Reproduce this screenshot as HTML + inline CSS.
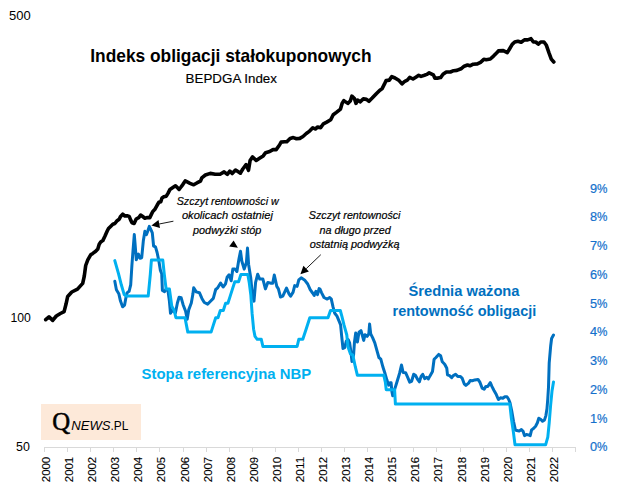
<!DOCTYPE html>
<html><head><meta charset="utf-8"><style>
html,body{margin:0;padding:0;background:#fff;}
svg{display:block;}
text{font-family:"Liberation Sans", sans-serif;}
</style></head><body>
<svg width="624" height="491" viewBox="0 0 624 491">
<rect width="624" height="491" fill="#fff"/>
<line x1="44" y1="447.5" x2="576" y2="447.5" stroke="#d9d9d9" stroke-width="1"/>
<line x1="44.5" y1="447" x2="44.5" y2="452" stroke="#d9d9d9" stroke-width="1"/>
<line x1="67.5" y1="447" x2="67.5" y2="452" stroke="#d9d9d9" stroke-width="1"/>
<line x1="90.5" y1="447" x2="90.5" y2="452" stroke="#d9d9d9" stroke-width="1"/>
<line x1="113.5" y1="447" x2="113.5" y2="452" stroke="#d9d9d9" stroke-width="1"/>
<line x1="136.5" y1="447" x2="136.5" y2="452" stroke="#d9d9d9" stroke-width="1"/>
<line x1="159.5" y1="447" x2="159.5" y2="452" stroke="#d9d9d9" stroke-width="1"/>
<line x1="183.5" y1="447" x2="183.5" y2="452" stroke="#d9d9d9" stroke-width="1"/>
<line x1="206.5" y1="447" x2="206.5" y2="452" stroke="#d9d9d9" stroke-width="1"/>
<line x1="229.5" y1="447" x2="229.5" y2="452" stroke="#d9d9d9" stroke-width="1"/>
<line x1="252.5" y1="447" x2="252.5" y2="452" stroke="#d9d9d9" stroke-width="1"/>
<line x1="275.5" y1="447" x2="275.5" y2="452" stroke="#d9d9d9" stroke-width="1"/>
<line x1="298.5" y1="447" x2="298.5" y2="452" stroke="#d9d9d9" stroke-width="1"/>
<line x1="321.5" y1="447" x2="321.5" y2="452" stroke="#d9d9d9" stroke-width="1"/>
<line x1="344.5" y1="447" x2="344.5" y2="452" stroke="#d9d9d9" stroke-width="1"/>
<line x1="367.5" y1="447" x2="367.5" y2="452" stroke="#d9d9d9" stroke-width="1"/>
<line x1="390.5" y1="447" x2="390.5" y2="452" stroke="#d9d9d9" stroke-width="1"/>
<line x1="413.5" y1="447" x2="413.5" y2="452" stroke="#d9d9d9" stroke-width="1"/>
<line x1="436.5" y1="447" x2="436.5" y2="452" stroke="#d9d9d9" stroke-width="1"/>
<line x1="460.5" y1="447" x2="460.5" y2="452" stroke="#d9d9d9" stroke-width="1"/>
<line x1="483.5" y1="447" x2="483.5" y2="452" stroke="#d9d9d9" stroke-width="1"/>
<line x1="506.5" y1="447" x2="506.5" y2="452" stroke="#d9d9d9" stroke-width="1"/>
<line x1="529.5" y1="447" x2="529.5" y2="452" stroke="#d9d9d9" stroke-width="1"/>
<line x1="552.5" y1="447" x2="552.5" y2="452" stroke="#d9d9d9" stroke-width="1"/>
<line x1="575.5" y1="447" x2="575.5" y2="452" stroke="#d9d9d9" stroke-width="1"/>
<text transform="translate(50.4,482.2) rotate(-90)" font-size="11.1" stroke="#000" stroke-width="0.1" textLength="25.4" lengthAdjust="spacingAndGlyphs">2000</text>
<text transform="translate(73.4,482.2) rotate(-90)" font-size="11.1" stroke="#000" stroke-width="0.1" textLength="25.4" lengthAdjust="spacingAndGlyphs">2001</text>
<text transform="translate(96.4,482.2) rotate(-90)" font-size="11.1" stroke="#000" stroke-width="0.1" textLength="25.4" lengthAdjust="spacingAndGlyphs">2002</text>
<text transform="translate(119.4,482.2) rotate(-90)" font-size="11.1" stroke="#000" stroke-width="0.1" textLength="25.4" lengthAdjust="spacingAndGlyphs">2003</text>
<text transform="translate(142.4,482.2) rotate(-90)" font-size="11.1" stroke="#000" stroke-width="0.1" textLength="25.4" lengthAdjust="spacingAndGlyphs">2004</text>
<text transform="translate(165.4,482.2) rotate(-90)" font-size="11.1" stroke="#000" stroke-width="0.1" textLength="25.4" lengthAdjust="spacingAndGlyphs">2005</text>
<text transform="translate(189.4,482.2) rotate(-90)" font-size="11.1" stroke="#000" stroke-width="0.1" textLength="25.4" lengthAdjust="spacingAndGlyphs">2006</text>
<text transform="translate(212.4,482.2) rotate(-90)" font-size="11.1" stroke="#000" stroke-width="0.1" textLength="25.4" lengthAdjust="spacingAndGlyphs">2007</text>
<text transform="translate(235.4,482.2) rotate(-90)" font-size="11.1" stroke="#000" stroke-width="0.1" textLength="25.4" lengthAdjust="spacingAndGlyphs">2008</text>
<text transform="translate(258.4,482.2) rotate(-90)" font-size="11.1" stroke="#000" stroke-width="0.1" textLength="25.4" lengthAdjust="spacingAndGlyphs">2009</text>
<text transform="translate(281.4,482.2) rotate(-90)" font-size="11.1" stroke="#000" stroke-width="0.1" textLength="25.4" lengthAdjust="spacingAndGlyphs">2010</text>
<text transform="translate(304.4,482.2) rotate(-90)" font-size="11.1" stroke="#000" stroke-width="0.1" textLength="25.4" lengthAdjust="spacingAndGlyphs">2011</text>
<text transform="translate(327.4,482.2) rotate(-90)" font-size="11.1" stroke="#000" stroke-width="0.1" textLength="25.4" lengthAdjust="spacingAndGlyphs">2012</text>
<text transform="translate(350.4,482.2) rotate(-90)" font-size="11.1" stroke="#000" stroke-width="0.1" textLength="25.4" lengthAdjust="spacingAndGlyphs">2013</text>
<text transform="translate(373.4,482.2) rotate(-90)" font-size="11.1" stroke="#000" stroke-width="0.1" textLength="25.4" lengthAdjust="spacingAndGlyphs">2014</text>
<text transform="translate(396.4,482.2) rotate(-90)" font-size="11.1" stroke="#000" stroke-width="0.1" textLength="25.4" lengthAdjust="spacingAndGlyphs">2015</text>
<text transform="translate(419.4,482.2) rotate(-90)" font-size="11.1" stroke="#000" stroke-width="0.1" textLength="25.4" lengthAdjust="spacingAndGlyphs">2016</text>
<text transform="translate(442.4,482.2) rotate(-90)" font-size="11.1" stroke="#000" stroke-width="0.1" textLength="25.4" lengthAdjust="spacingAndGlyphs">2017</text>
<text transform="translate(466.4,482.2) rotate(-90)" font-size="11.1" stroke="#000" stroke-width="0.1" textLength="25.4" lengthAdjust="spacingAndGlyphs">2018</text>
<text transform="translate(489.4,482.2) rotate(-90)" font-size="11.1" stroke="#000" stroke-width="0.1" textLength="25.4" lengthAdjust="spacingAndGlyphs">2019</text>
<text transform="translate(512.4,482.2) rotate(-90)" font-size="11.1" stroke="#000" stroke-width="0.1" textLength="25.4" lengthAdjust="spacingAndGlyphs">2020</text>
<text transform="translate(535.4,482.2) rotate(-90)" font-size="11.1" stroke="#000" stroke-width="0.1" textLength="25.4" lengthAdjust="spacingAndGlyphs">2021</text>
<text transform="translate(558.4,482.2) rotate(-90)" font-size="11.1" stroke="#000" stroke-width="0.1" textLength="25.4" lengthAdjust="spacingAndGlyphs">2022</text>
<text x="9.1" y="20" font-size="12.8" textLength="21.7" lengthAdjust="spacingAndGlyphs">500</text>
<text x="10.4" y="321.8" font-size="12.8" textLength="20.4" lengthAdjust="spacingAndGlyphs">100</text>
<text x="16" y="451.2" font-size="12.8" textLength="13.8" lengthAdjust="spacingAndGlyphs">50</text>
<text x="590.0" y="451.3" font-size="12.6" fill="#1470cc" stroke="#1470cc" stroke-width="0.2" textLength="7.1" lengthAdjust="spacingAndGlyphs">0</text>
<text x="597.0" y="451.3" font-size="12.6" fill="#1470cc" stroke="#1470cc" stroke-width="0.2" textLength="10.4" lengthAdjust="spacingAndGlyphs">%</text>
<text x="590.0" y="422.6" font-size="12.6" fill="#1470cc" stroke="#1470cc" stroke-width="0.2" textLength="7.1" lengthAdjust="spacingAndGlyphs">1</text>
<text x="597.0" y="422.6" font-size="12.6" fill="#1470cc" stroke="#1470cc" stroke-width="0.2" textLength="10.4" lengthAdjust="spacingAndGlyphs">%</text>
<text x="590.0" y="393.8" font-size="12.6" fill="#1470cc" stroke="#1470cc" stroke-width="0.2" textLength="7.1" lengthAdjust="spacingAndGlyphs">2</text>
<text x="597.0" y="393.8" font-size="12.6" fill="#1470cc" stroke="#1470cc" stroke-width="0.2" textLength="10.4" lengthAdjust="spacingAndGlyphs">%</text>
<text x="590.0" y="365.1" font-size="12.6" fill="#1470cc" stroke="#1470cc" stroke-width="0.2" textLength="7.1" lengthAdjust="spacingAndGlyphs">3</text>
<text x="597.0" y="365.1" font-size="12.6" fill="#1470cc" stroke="#1470cc" stroke-width="0.2" textLength="10.4" lengthAdjust="spacingAndGlyphs">%</text>
<text x="590.0" y="336.3" font-size="12.6" fill="#1470cc" stroke="#1470cc" stroke-width="0.2" textLength="7.1" lengthAdjust="spacingAndGlyphs">4</text>
<text x="597.0" y="336.3" font-size="12.6" fill="#1470cc" stroke="#1470cc" stroke-width="0.2" textLength="10.4" lengthAdjust="spacingAndGlyphs">%</text>
<text x="590.0" y="307.6" font-size="12.6" fill="#1470cc" stroke="#1470cc" stroke-width="0.2" textLength="7.1" lengthAdjust="spacingAndGlyphs">5</text>
<text x="597.0" y="307.6" font-size="12.6" fill="#1470cc" stroke="#1470cc" stroke-width="0.2" textLength="10.4" lengthAdjust="spacingAndGlyphs">%</text>
<text x="590.0" y="278.8" font-size="12.6" fill="#1470cc" stroke="#1470cc" stroke-width="0.2" textLength="7.1" lengthAdjust="spacingAndGlyphs">6</text>
<text x="597.0" y="278.8" font-size="12.6" fill="#1470cc" stroke="#1470cc" stroke-width="0.2" textLength="10.4" lengthAdjust="spacingAndGlyphs">%</text>
<text x="590.0" y="250.1" font-size="12.6" fill="#1470cc" stroke="#1470cc" stroke-width="0.2" textLength="7.1" lengthAdjust="spacingAndGlyphs">7</text>
<text x="597.0" y="250.1" font-size="12.6" fill="#1470cc" stroke="#1470cc" stroke-width="0.2" textLength="10.4" lengthAdjust="spacingAndGlyphs">%</text>
<text x="590.0" y="221.3" font-size="12.6" fill="#1470cc" stroke="#1470cc" stroke-width="0.2" textLength="7.1" lengthAdjust="spacingAndGlyphs">8</text>
<text x="597.0" y="221.3" font-size="12.6" fill="#1470cc" stroke="#1470cc" stroke-width="0.2" textLength="10.4" lengthAdjust="spacingAndGlyphs">%</text>
<text x="590.0" y="192.6" font-size="12.6" fill="#1470cc" stroke="#1470cc" stroke-width="0.2" textLength="7.1" lengthAdjust="spacingAndGlyphs">9</text>
<text x="597.0" y="192.6" font-size="12.6" fill="#1470cc" stroke="#1470cc" stroke-width="0.2" textLength="10.4" lengthAdjust="spacingAndGlyphs">%</text>
<rect x="41" y="404" width="100" height="36" fill="#fde9d9"/>
<text x="52.2" y="429.8" style="font-family:'Liberation Serif', serif" font-size="24.8" fill="#000" stroke="#000" stroke-width="0.5">Q</text>
<text x="71.2" y="429.7" font-size="13.4" font-style="italic" fill="#000" textLength="39.3" lengthAdjust="spacingAndGlyphs">NEWS</text>
<text x="110.4" y="429.7" font-size="13" fill="#000" textLength="17.9" lengthAdjust="spacingAndGlyphs">.PL</text>
<text x="90.3" y="61.8" font-size="17.9" font-weight="bold" textLength="281.2" lengthAdjust="spacingAndGlyphs">Indeks obligacji stałokuponowych</text>
<text x="185.6" y="83.1" font-size="12.6" stroke="#000" stroke-width="0.15" textLength="91.4" lengthAdjust="spacingAndGlyphs">BEPDGA Index</text>
<text x="176.7" y="205.0" font-size="11.6" font-style="italic" stroke="#000" stroke-width="0.2" textLength="102.0" lengthAdjust="spacingAndGlyphs">Szczyt rentowności w</text>
<text x="181.9" y="219.4" font-size="11.6" font-style="italic" stroke="#000" stroke-width="0.2" textLength="91.0" lengthAdjust="spacingAndGlyphs">okolicach ostatniej</text>
<text x="193.0" y="234.2" font-size="11.6" font-style="italic" stroke="#000" stroke-width="0.2" textLength="68.3" lengthAdjust="spacingAndGlyphs">podwyżki stóp</text>
<text x="308.8" y="218.5" font-size="11.6" font-style="italic" stroke="#000" stroke-width="0.2" textLength="91.7" lengthAdjust="spacingAndGlyphs">Szczyt rentowności</text>
<text x="319.4" y="233.5" font-size="11.6" font-style="italic" stroke="#000" stroke-width="0.2" textLength="71.4" lengthAdjust="spacingAndGlyphs">na długo przed</text>
<text x="309.7" y="248.0" font-size="11.6" font-style="italic" stroke="#000" stroke-width="0.2" textLength="89.9" lengthAdjust="spacingAndGlyphs">ostatnią podwyżką</text>
<text x="408.5" y="296" font-size="15.3" font-weight="bold" fill="#0070c0" textLength="111" lengthAdjust="spacingAndGlyphs">Średnia ważona</text>
<text x="392.6" y="316" font-size="15.3" font-weight="bold" fill="#0070c0" textLength="143.6" lengthAdjust="spacingAndGlyphs">rentowność obligacji</text>
<text x="141.6" y="378.9" font-size="15.2" font-weight="bold" fill="#00b0f0" textLength="169.6" lengthAdjust="spacingAndGlyphs">Stopa referencyjna NBP</text>
<line x1="173.4" y1="221.2" x2="159.2" y2="224.0" stroke="#000" stroke-width="0.9"/><path d="M151.4 225.6 L158.5 220.1 L160.0 228.0 Z" fill="#000"/>
<path d="M233.6 240.4 L229.2 246.5 L237.9 247.7 Z" fill="#000"/>
<line x1="320.8" y1="254.7" x2="306.2" y2="268.7" stroke="#000" stroke-width="0.9"/><path d="M300.4 274.2 L303.4 265.8 L308.9 271.6 Z" fill="#000"/>
<path d="M114.8 281.3 L116.4 289.7 L118.8 293.7 L120.5 301.1 L122.6 306.8 L124.6 305.1 L125.9 297.8 L127.0 292.9 L129.1 291.3 L130.7 284.8 L131.9 265.5 L133.0 250.8 L134.3 234.6 L135.1 244.3 L136.3 259.8 L138.4 254.1 L140.0 258.2 L141.7 257.7 L143.3 241.1 L144.9 231.3 L146.5 234.6 L147.7 231.3 L149.3 226.4 L150.9 229.7 L152.3 232.9 L153.6 246.0 L155.5 246.8 L157.1 252.5 L158.8 260.6 L160.4 270.4 L161.7 273.7 L162.4 290.5 L164.5 291.6 L166.1 289.1 L167.9 290.0 L169.4 301.1 L170.5 313.3 L172.1 310.0 L174.2 311.7 L175.4 313.0 L177.4 303.0 L179.1 297.3 L181.2 297.8 L183.1 304.7 L185.6 311.2 L187.2 319.3 L188.8 309.6 L191.3 303.0 L192.9 294.1 L193.7 287.8 L196.2 291.9 L199.4 292.7 L201.9 298.4 L204.3 302.5 L207.6 304.1 L210.0 301.7 L213.3 298.4 L215.7 289.5 L217.7 287.8 L220.6 283.0 L223.1 287.0 L225.5 283.8 L227.1 277.3 L229.1 274.8 L231.2 280.8 L232.8 269.1 L235.0 269.1 L236.9 271.5 L238.9 259.3 L240.5 251.2 L241.8 261.0 L244.2 269.1 L246.4 262.6 L247.5 248.0 L248.6 264.4 L250.7 277.5 L252.3 293.8 L254.0 301.1 L255.6 282.4 L257.7 274.2 L259.7 279.1 L262.9 279.1 L265.4 288.9 L267.8 282.4 L271.1 283.2 L272.7 283.2 L274.3 275.0 L276.8 286.4 L278.4 288.9 L280.5 297.0 L282.8 296.2 L286.5 288.1 L289.0 293.8 L290.6 296.2 L293.1 292.1 L294.7 285.6 L297.1 286.4 L298.8 279.9 L301.2 277.8 L304.5 279.9 L307.7 284.0 L310.2 289.7 L312.6 293.0 L314.2 295.4 L315.9 291.3 L317.5 294.6 L319.1 288.6 L320.0 289.0 L321.5 292.6 L324.0 297.5 L327.2 299.1 L329.7 297.5 L331.3 299.1 L332.9 306.4 L334.6 313.0 L337.0 316.2 L339.4 321.9 L340.6 324.9 L341.7 336.3 L343.0 348.5 L344.7 347.7 L346.3 341.2 L348.2 339.6 L349.6 342.8 L350.9 351.8 L352.0 361.5 L353.6 355.0 L354.4 342.8 L355.7 333.0 L357.4 342.0 L359.0 332.2 L361.0 330.6 L362.6 336.3 L363.7 340.4 L365.0 334.7 L367.1 336.3 L368.8 333.8 L369.6 324.1 L370.7 333.8 L372.7 337.9 L374.8 342.8 L377.3 351.8 L378.9 357.5 L380.8 359.1 L383.0 367.3 L385.1 373.8 L387.0 380.3 L388.7 385.2 L390.0 382.7 L391.1 382.7 L391.9 391.7 L392.7 395.8 L393.9 391.7 L395.2 387.6 L397.4 380.5 L399.6 373.2 L401.5 365.0 L403.1 372.4 L405.6 372.7 L407.7 377.3 L409.7 382.1 L411.6 381.3 L413.7 374.3 L415.4 375.3 L417.8 379.7 L419.4 381.8 L421.1 376.4 L422.7 374.3 L424.7 378.6 L426.8 377.3 L428.4 378.9 L430.0 375.9 L432.5 371.5 L434.1 359.3 L435.7 357.7 L438.7 354.4 L440.6 355.7 L442.3 361.8 L444.7 364.2 L446.8 368.3 L447.5 374.8 L449.6 375.6 L451.7 377.6 L453.3 375.6 L455.6 374.3 L457.7 376.4 L460.2 376.4 L462.1 378.1 L464.2 383.8 L465.9 385.4 L468.6 383.2 L470.2 380.4 L472.3 380.7 L474.8 379.9 L478.0 379.4 L480.0 382.4 L482.1 388.1 L484.2 389.2 L485.9 386.4 L487.8 386.4 L490.3 382.7 L491.9 386.4 L494.0 390.5 L496.3 394.6 L498.4 399.5 L500.5 397.8 L502.8 398.3 L504.9 396.7 L507.0 396.7 L508.6 399.2 L510.0 402.8 L511.7 410.7 L513.5 421.3 L515.4 429.9 L516.8 430.6 L519.2 431.0 L521.4 429.6 L523.1 431.3 L524.5 435.6 L526.4 434.5 L528.5 434.9 L530.2 435.6 L531.6 429.9 L533.5 428.5 L535.6 426.3 L537.4 422.8 L538.8 418.2 L540.6 419.2 L542.5 421.3 L544.5 419.9 L545.9 415.6 L547.0 408.5 L547.8 398.5 L548.5 387.1 L549.2 362.8 L550.7 345.7 L551.6 338.5 L553.5 335.0" fill="none" stroke="#0070c0" stroke-width="3" stroke-linejoin="round" stroke-linecap="round"/>
<path d="M114.8 260.6 L118.5 273.7 L121.3 284.8 L124.2 294.6 L126.2 296.1 L148.2 296.1 L150.3 274.5 L151.4 260.1 L162.8 260.1 L164.3 274.5 L166.1 288.9 L169.4 288.9 L171.8 306.2 L174.2 310.5 L175.9 317.7 L185.0 317.7 L186.4 324.9 L187.8 332.1 L211.1 332.1 L213.4 324.9 L215.7 317.7 L218.0 317.7 L220.3 310.5 L223.3 310.5 L225.6 303.3 L227.9 303.3 L230.2 296.1 L232.5 288.9 L234.8 281.7 L238.6 281.7 L240.9 274.5 L247.8 274.5 L249.3 283.1 L250.8 294.7 L252.1 313.4 L253.6 329.2 L255.0 336.4 L257.2 339.3 L261.3 339.3 L262.9 346.5 L297.1 346.5 L298.8 339.3 L302.8 339.3 L306.1 329.2 L309.8 317.7 L328.0 317.7 L330.5 310.5 L340.3 310.5 L341.9 316.3 L344.0 324.9 L346.8 335.0 L347.9 346.5 L350.4 353.7 L352.8 355.1 L355.3 366.7 L357.4 375.3 L383.8 375.3 L385.4 382.5 L386.2 389.7 L394.6 389.7 L395.4 404.1 L509.8 404.1 L511.4 418.5 L513.5 432.9 L515.0 444.8 L545.6 444.8 L547.8 437.2 L549.2 422.8 L550.6 405.5 L552.0 391.1 L553.5 381.9" fill="none" stroke="#00b0f0" stroke-width="3" stroke-linejoin="round" stroke-linecap="round"/>
<path d="M45.7 319.7 L49.0 316.8 L52.7 320.4 L56.3 316.0 L60.4 313.5 L64.1 311.6 L66.1 303.8 L67.7 296.4 L71.8 292.0 L77.5 289.1 L82.7 283.4 L84.3 276.0 L85.7 265.5 L87.8 259.8 L90.7 254.8 L92.8 253.4 L95.7 251.3 L97.8 249.1 L99.2 244.2 L100.7 242.0 L102.8 240.6 L104.9 236.3 L107.1 231.3 L108.5 228.5 L110.6 226.4 L112.8 224.2 L114.9 223.5 L117.1 220.7 L119.2 219.2 L120.6 216.4 L122.7 214.2 L124.9 216.0 L127.0 215.7 L129.2 216.4 L130.6 219.9 L132.0 222.8 L134.1 223.5 L136.2 219.0 L138.7 217.7 L140.6 215.1 L142.4 216.3 L144.9 218.2 L147.3 217.6 L149.8 217.6 L151.6 213.9 L152.8 211.5 L154.7 209.6 L157.1 205.3 L158.9 202.3 L160.8 201.7 L162.0 198.0 L163.8 196.8 L166.3 196.2 L168.1 193.1 L170.0 189.4 L171.8 188.2 L173.6 187.0 L175.5 185.8 L177.3 187.6 L179.1 189.4 L181.0 187.0 L182.8 184.6 L185.2 180.9 L187.7 182.1 L190.0 183.3 L193.7 184.8 L197.3 182.7 L200.5 181.1 L201.8 177.8 L205.4 175.0 L210.3 173.4 L215.2 174.2 L220.1 174.2 L224.1 171.9 L227.3 174.4 L229.8 171.1 L232.2 173.5 L235.5 170.0 L237.9 171.6 L240.4 173.2 L242.8 169.0 L246.1 164.6 L248.5 170.3 L250.1 160.5 L252.6 156.9 L256.2 160.5 L259.9 158.1 L263.2 155.9 L265.6 152.7 L269.7 151.5 L273.0 149.6 L276.2 149.6 L279.5 145.0 L281.1 142.1 L284.4 141.8 L286.8 141.8 L290.1 138.5 L293.3 137.6 L296.5 138.8 L299.8 138.4 L303.0 136.5 L306.3 133.5 L309.6 131.1 L312.8 127.8 L315.3 129.0 L317.7 127.0 L320.6 127.8 L323.4 123.8 L326.7 122.1 L330.7 119.7 L333.2 114.8 L336.4 112.4 L340.5 109.1 L342.1 103.4 L343.8 100.6 L347.8 103.4 L350.3 101.0 L351.9 96.1 L354.4 98.5 L356.0 103.4 L357.6 100.1 L360.1 101.8 L363.3 98.9 L366.5 99.4 L369.0 101.3 L372.2 98.1 L376.3 93.7 L379.6 90.4 L382.0 88.8 L384.4 84.2 L386.1 80.6 L389.3 80.1 L391.8 76.6 L395.0 78.0 L399.1 80.6 L402.0 83.9 L404.8 81.3 L407.3 80.1 L409.7 77.4 L413.0 79.0 L416.2 76.9 L418.7 75.3 L421.1 76.4 L424.4 75.3 L426.8 74.4 L429.2 72.8 L433.3 74.8 L434.9 78.1 L438.1 78.1 L440.6 77.6 L443.0 74.3 L446.3 72.0 L450.4 72.0 L453.6 70.7 L456.9 70.4 L461.0 68.8 L464.2 66.2 L467.5 65.0 L469.9 65.8 L473.2 64.2 L477.3 63.9 L480.5 62.3 L483.8 59.3 L486.2 59.7 L490.3 59.0 L493.5 56.1 L496.8 52.8 L498.4 50.9 L503.3 50.6 L507.3 52.6 L509.8 48.5 L512.2 44.4 L514.7 42.0 L517.9 41.2 L521.2 42.3 L524.4 39.9 L527.7 39.9 L531.0 38.7 L533.4 42.0 L535.8 42.0 L538.3 44.1 L540.7 42.0 L544.0 42.0 L546.4 45.3 L548.9 52.6 L551.3 59.1 L553.8 62.0" fill="none" stroke="#000" stroke-width="3.6" stroke-linejoin="round" stroke-linecap="round"/>
</svg>
</body></html>
